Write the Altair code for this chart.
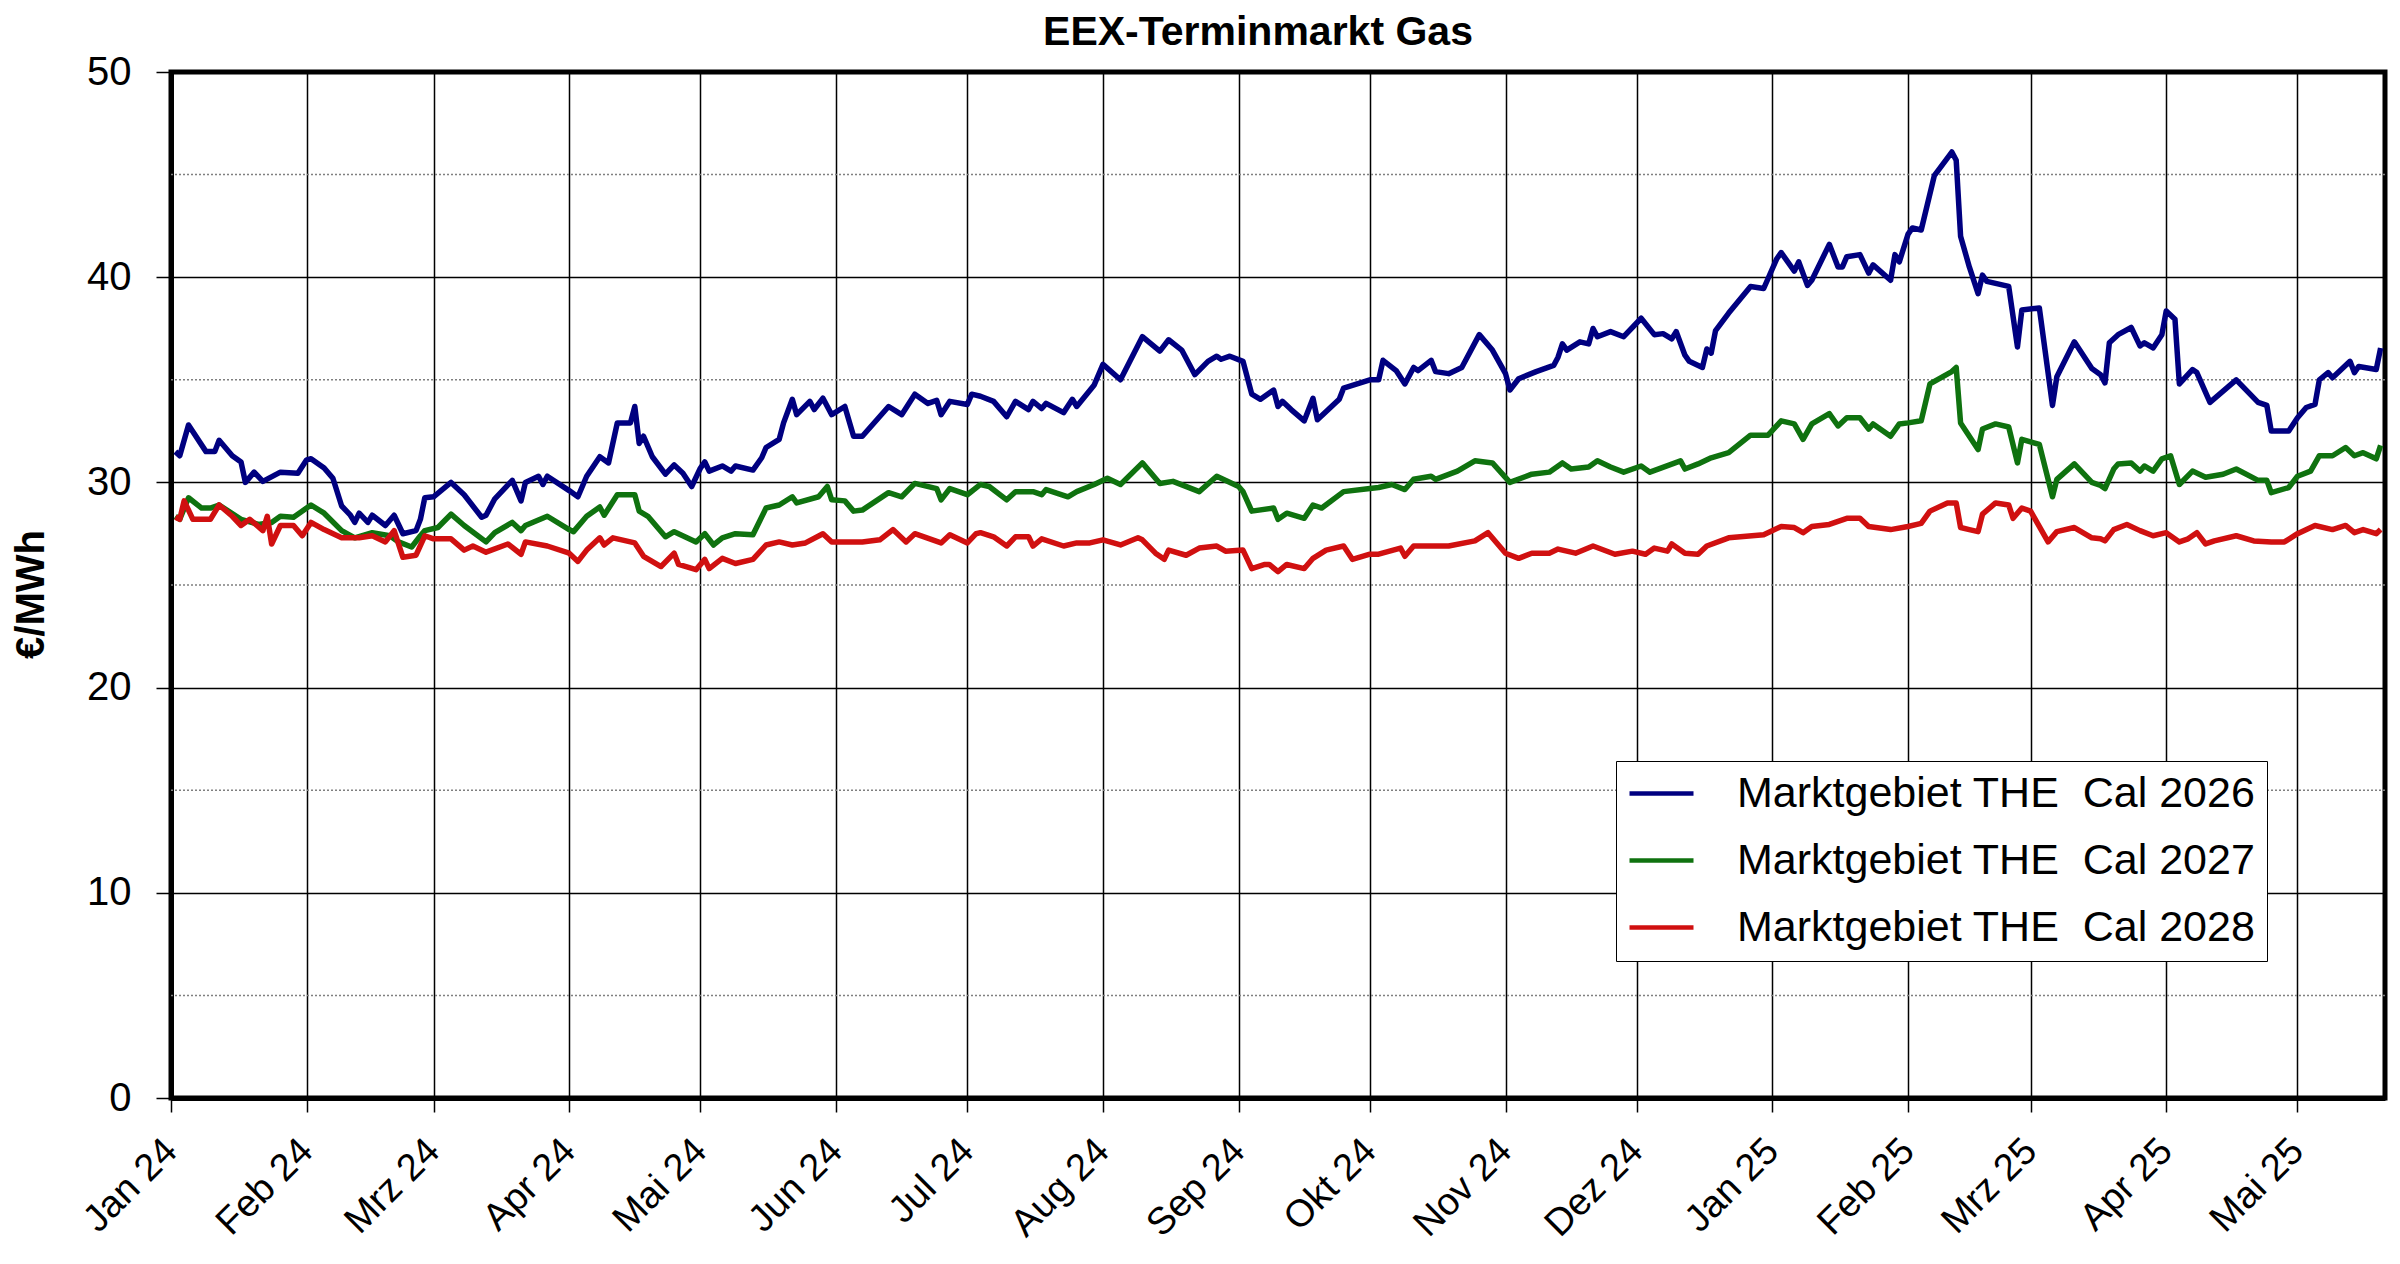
import altair as alt
import pandas as pd

TITLE = "EEX-Terminmarkt Gas"
Y_TITLE = "€/MWh"
SERIES = ["Marktgebiet THE\u00a0 Cal 2026", "Marktgebiet THE\u00a0 Cal 2027", "Marktgebiet THE\u00a0 Cal 2028"]
COLORS = ["#000080", "#0f720f", "#d01010"]
MONTHS_DE = ["Jan", "Feb", "Mrz", "Apr", "Mai", "Jun", "Jul", "Aug", "Sep", "Okt", "Nov", "Dez"]
Y_TICKS = [0, 10, 20, 30, 40, 50]
Y_MINOR = [5, 15, 25, 35, 45]

cal26_dates = [
    "2024-01-02", "2024-01-03", "2024-01-05", "2024-01-09", "2024-01-11", "2024-01-12", "2024-01-15", "2024-01-17",
    "2024-01-18", "2024-01-20", "2024-01-22", "2024-01-26", "2024-01-30", "2024-02-01", "2024-02-02", "2024-02-05",
    "2024-02-07", "2024-02-09", "2024-02-11", "2024-02-12", "2024-02-13", "2024-02-15", "2024-02-16", "2024-02-19",
    "2024-02-21", "2024-02-23", "2024-02-26", "2024-02-27", "2024-02-28", "2024-03-01", "2024-03-05", "2024-03-08",
    "2024-03-12", "2024-03-13", "2024-03-15", "2024-03-19", "2024-03-21", "2024-03-22", "2024-03-25", "2024-03-26",
    "2024-03-27", "2024-04-01", "2024-04-03", "2024-04-05", "2024-04-08", "2024-04-10", "2024-04-12", "2024-04-15",
    "2024-04-16", "2024-04-17", "2024-04-18", "2024-04-20", "2024-04-23", "2024-04-25", "2024-04-27", "2024-04-29",
    "2024-05-01", "2024-05-02", "2024-05-03", "2024-05-06", "2024-05-08", "2024-05-09", "2024-05-13", "2024-05-15",
    "2024-05-16", "2024-05-19", "2024-05-20", "2024-05-22", "2024-05-23", "2024-05-26", "2024-05-27", "2024-05-29",
    "2024-05-31", "2024-06-03", "2024-06-05", "2024-06-07", "2024-06-13", "2024-06-16", "2024-06-19", "2024-06-22",
    "2024-06-24", "2024-06-25", "2024-06-27", "2024-07-01", "2024-07-02", "2024-07-04", "2024-07-07", "2024-07-10",
    "2024-07-12", "2024-07-15", "2024-07-16", "2024-07-18", "2024-07-19", "2024-07-23", "2024-07-25", "2024-07-26",
    "2024-07-30", "2024-08-01", "2024-08-05", "2024-08-10", "2024-08-14", "2024-08-16", "2024-08-19", "2024-08-22",
    "2024-08-25", "2024-08-27", "2024-08-28", "2024-08-30", "2024-09-02", "2024-09-04", "2024-09-06", "2024-09-09",
    "2024-09-10", "2024-09-11", "2024-09-13", "2024-09-16", "2024-09-18", "2024-09-19", "2024-09-24", "2024-09-25",
    "2024-10-01", "2024-10-03", "2024-10-04", "2024-10-07", "2024-10-09", "2024-10-11", "2024-10-12", "2024-10-15",
    "2024-10-16", "2024-10-19", "2024-10-22", "2024-10-26", "2024-10-29", "2024-11-01", "2024-11-02", "2024-11-04",
    "2024-11-08", "2024-11-12", "2024-11-13", "2024-11-14", "2024-11-15", "2024-11-18", "2024-11-20", "2024-11-21",
    "2024-11-22", "2024-11-25", "2024-11-28", "2024-12-02", "2024-12-05", "2024-12-07", "2024-12-09", "2024-12-10",
    "2024-12-12", "2024-12-13", "2024-12-16", "2024-12-17", "2024-12-18", "2024-12-19", "2024-12-22", "2024-12-27",
    "2024-12-30", "2025-01-02", "2025-01-03", "2025-01-06", "2025-01-07", "2025-01-09", "2025-01-10", "2025-01-14",
    "2025-01-16", "2025-01-17", "2025-01-18", "2025-01-21", "2025-01-23", "2025-01-24", "2025-01-28", "2025-01-29",
    "2025-01-30", "2025-02-01", "2025-02-02", "2025-02-04", "2025-02-07", "2025-02-11", "2025-02-12", "2025-02-13",
    "2025-02-15", "2025-02-17", "2025-02-18", "2025-02-19", "2025-02-24", "2025-02-26", "2025-02-27", "2025-03-03",
    "2025-03-06", "2025-03-07", "2025-03-11", "2025-03-15", "2025-03-17", "2025-03-18", "2025-03-19", "2025-03-21",
    "2025-03-24", "2025-03-26", "2025-03-27", "2025-03-29", "2025-03-31", "2025-04-01", "2025-04-03", "2025-04-04",
    "2025-04-07", "2025-04-08", "2025-04-11", "2025-04-17", "2025-04-22", "2025-04-24", "2025-04-25", "2025-04-29",
    "2025-05-01", "2025-05-03", "2025-05-05", "2025-05-06", "2025-05-08", "2025-05-09", "2025-05-13", "2025-05-14",
    "2025-05-15", "2025-05-19", "2025-05-20",
]
cal26_values = [
    31.5, 31.3, 32.8, 31.5, 31.5, 32.05, 31.3, 31.0,
    30.0, 30.5, 30.05, 30.5, 30.45, 31.1, 31.15, 30.7,
    30.2, 28.85, 28.4, 28.05, 28.5, 28.05, 28.4, 27.9,
    28.4, 27.5, 27.65, 28.2, 29.25, 29.3, 30.0, 29.4,
    28.3, 28.4, 29.2, 30.1, 29.1, 30.0, 30.3, 29.9,
    30.3, 29.6, 29.3, 30.3, 31.25, 30.95, 32.9, 32.9,
    33.7, 31.9, 32.25, 31.25, 30.4, 30.85, 30.45, 29.8,
    30.7, 31.0, 30.55, 30.8, 30.55, 30.8, 30.6, 31.2,
    31.7, 32.1, 32.9, 34.05, 33.3, 33.95, 33.55, 34.1,
    33.3, 33.7, 32.25, 32.25, 33.7, 33.3, 34.3, 33.85,
    34.0, 33.3, 33.95, 33.8, 34.3, 34.2, 33.95, 33.2,
    33.95, 33.55, 33.95, 33.6, 33.85, 33.4, 34.05, 33.7,
    34.75, 35.75, 35.0, 37.1, 36.4, 36.95, 36.45, 35.25,
    35.9, 36.15, 36.0, 36.15, 35.9, 34.3, 34.05, 34.5,
    33.7, 33.95, 33.55, 33.0, 34.1, 33.05, 34.05, 34.6,
    35.0, 35.0, 35.95, 35.45, 34.8, 35.6, 35.45, 35.95,
    35.4, 35.3, 35.6, 37.2, 36.45, 35.3, 34.5, 35.05,
    35.4, 35.7, 36.1, 36.75, 36.45, 36.85, 36.75, 37.5,
    37.1, 37.35, 37.1, 38.0, 37.2, 37.25, 37.0, 37.35,
    36.2, 35.9, 35.6, 36.5, 36.3, 37.4, 38.25, 39.55,
    39.45, 40.9, 41.2, 40.3, 40.75, 39.6, 39.85, 41.6,
    40.5, 40.5, 41.0, 41.1, 40.2, 40.6, 39.85, 41.1,
    40.75, 42.1, 42.4, 42.3, 44.95, 46.1, 45.7, 42.0,
    40.5, 39.2, 40.1, 39.8, 39.55, 36.6, 38.4, 38.5,
    33.75, 35.15, 36.85, 35.55, 35.25, 34.85, 36.8, 37.2,
    37.55, 36.65, 36.8, 36.55, 37.2, 38.35, 37.95, 34.8,
    35.5, 35.35, 33.9, 35.0, 33.9, 33.75, 32.5, 32.5,
    33.15, 33.65, 33.8, 35.0, 35.35, 35.1, 35.9, 35.35,
    35.65, 35.5, 36.55,
]

cal27_dates = [
    "2024-01-02", "2024-01-03", "2024-01-05", "2024-01-08", "2024-01-10", "2024-01-12", "2024-01-17", "2024-01-21",
    "2024-01-24", "2024-01-26", "2024-01-29", "2024-02-01", "2024-02-02", "2024-02-05", "2024-02-09", "2024-02-12",
    "2024-02-16", "2024-02-20", "2024-02-22", "2024-02-25", "2024-02-27", "2024-02-28", "2024-03-02", "2024-03-05",
    "2024-03-08", "2024-03-13", "2024-03-15", "2024-03-19", "2024-03-21", "2024-03-22", "2024-03-27", "2024-04-01",
    "2024-04-02", "2024-04-05", "2024-04-08", "2024-04-09", "2024-04-12", "2024-04-16", "2024-04-17", "2024-04-19",
    "2024-04-23", "2024-04-25", "2024-04-30", "2024-05-02", "2024-05-04", "2024-05-06", "2024-05-09", "2024-05-13",
    "2024-05-16", "2024-05-19", "2024-05-22", "2024-05-23", "2024-05-28", "2024-05-30", "2024-05-31", "2024-06-03",
    "2024-06-05", "2024-06-07", "2024-06-13", "2024-06-16", "2024-06-19", "2024-06-24", "2024-06-25", "2024-06-27",
    "2024-07-01", "2024-07-04", "2024-07-06", "2024-07-10", "2024-07-12", "2024-07-16", "2024-07-18", "2024-07-19",
    "2024-07-24", "2024-07-26", "2024-07-30", "2024-08-02", "2024-08-05", "2024-08-10", "2024-08-14", "2024-08-17",
    "2024-08-23", "2024-08-27", "2024-09-01", "2024-09-02", "2024-09-04", "2024-09-09", "2024-09-10", "2024-09-12",
    "2024-09-16", "2024-09-18", "2024-09-20", "2024-09-25", "2024-10-01", "2024-10-03", "2024-10-06", "2024-10-09",
    "2024-10-11", "2024-10-15", "2024-10-16", "2024-10-21", "2024-10-25", "2024-10-29", "2024-11-02", "2024-11-07",
    "2024-11-11", "2024-11-14", "2024-11-16", "2024-11-20", "2024-11-22", "2024-11-25", "2024-11-28", "2024-12-02",
    "2024-12-04", "2024-12-11", "2024-12-12", "2024-12-15", "2024-12-18", "2024-12-22", "2024-12-27", "2024-12-31",
    "2025-01-03", "2025-01-06", "2025-01-08", "2025-01-10", "2025-01-14", "2025-01-16", "2025-01-18", "2025-01-21",
    "2025-01-23", "2025-01-24", "2025-01-28", "2025-01-30", "2025-02-01", "2025-02-04", "2025-02-06", "2025-02-11",
    "2025-02-12", "2025-02-13", "2025-02-17", "2025-02-18", "2025-02-21", "2025-02-24", "2025-02-26", "2025-02-27",
    "2025-03-03", "2025-03-06", "2025-03-07", "2025-03-11", "2025-03-15", "2025-03-17", "2025-03-18", "2025-03-20",
    "2025-03-21", "2025-03-24", "2025-03-26", "2025-03-27", "2025-03-29", "2025-03-31", "2025-04-02", "2025-04-04",
    "2025-04-07", "2025-04-10", "2025-04-14", "2025-04-17", "2025-04-22", "2025-04-24", "2025-04-25", "2025-04-29",
    "2025-05-01", "2025-05-04", "2025-05-06", "2025-05-09", "2025-05-12", "2025-05-14", "2025-05-16", "2025-05-19",
    "2025-05-20",
]
cal27_values = [
    28.35, 28.2, 29.25, 28.75, 28.75, 28.9, 28.2, 27.95,
    28.05, 28.35, 28.3, 28.75, 28.9, 28.5, 27.65, 27.3,
    27.55, 27.4, 27.1, 26.85, 27.4, 27.65, 27.8, 28.45,
    27.9, 27.1, 27.55, 28.05, 27.65, 27.9, 28.35, 27.7,
    27.6, 28.35, 28.8, 28.4, 29.4, 29.4, 28.6, 28.35,
    27.35, 27.6, 27.1, 27.5, 26.95, 27.3, 27.5, 27.45,
    28.75, 28.9, 29.3, 29.0, 29.3, 29.8, 29.15, 29.1,
    28.6, 28.65, 29.5, 29.3, 29.95, 29.7, 29.15, 29.7,
    29.4, 29.9, 29.8, 29.15, 29.55, 29.55, 29.4, 29.65,
    29.3, 29.55, 29.9, 30.2, 29.9, 30.95, 29.95, 30.05,
    29.55, 30.3, 29.8, 29.55, 28.6, 28.75, 28.2, 28.5,
    28.25, 28.9, 28.75, 29.55, 29.7, 29.75, 29.9, 29.65,
    30.15, 30.3, 30.15, 30.55, 31.05, 30.95, 30.0, 30.4,
    30.5, 30.95, 30.65, 30.75, 31.05, 30.75, 30.5, 30.8,
    30.5, 31.05, 30.65, 30.9, 31.2, 31.45, 32.3, 32.3,
    33.0, 32.85, 32.1, 32.85, 33.35, 32.75, 33.15, 33.15,
    32.6, 32.85, 32.25, 32.85, 32.9, 33.0, 34.8, 35.4,
    35.6, 32.9, 31.6, 32.6, 32.85, 32.7, 30.95, 32.1,
    31.85, 29.3, 30.15, 30.9, 30.0, 29.85, 29.7, 30.65,
    30.9, 30.95, 30.55, 30.8, 30.55, 31.15, 31.3, 29.9,
    30.55, 30.25, 30.4, 30.65, 30.1, 30.1, 29.5, 29.75,
    30.3, 30.55, 31.3, 31.3, 31.7, 31.3, 31.45, 31.15,
    31.8,
]

cal28_dates = [
    "2024-01-02", "2024-01-03", "2024-01-04", "2024-01-06", "2024-01-10", "2024-01-12", "2024-01-15", "2024-01-17",
    "2024-01-19", "2024-01-22", "2024-01-23", "2024-01-24", "2024-01-26", "2024-01-29", "2024-01-31", "2024-02-02",
    "2024-02-05", "2024-02-09", "2024-02-13", "2024-02-16", "2024-02-19", "2024-02-21", "2024-02-23", "2024-02-26",
    "2024-02-28", "2024-03-01", "2024-03-05", "2024-03-08", "2024-03-10", "2024-03-13", "2024-03-18", "2024-03-21",
    "2024-03-22", "2024-03-27", "2024-04-01", "2024-04-03", "2024-04-05", "2024-04-08", "2024-04-09", "2024-04-11",
    "2024-04-16", "2024-04-18", "2024-04-22", "2024-04-25", "2024-04-26", "2024-04-30", "2024-05-02", "2024-05-03",
    "2024-05-06", "2024-05-09", "2024-05-13", "2024-05-16", "2024-05-19", "2024-05-22", "2024-05-25", "2024-05-29",
    "2024-05-31", "2024-06-07", "2024-06-11", "2024-06-14", "2024-06-17", "2024-06-19", "2024-06-25", "2024-06-27",
    "2024-07-01", "2024-07-03", "2024-07-04", "2024-07-07", "2024-07-10", "2024-07-12", "2024-07-15", "2024-07-16",
    "2024-07-18", "2024-07-23", "2024-07-26", "2024-07-29", "2024-08-01", "2024-08-05", "2024-08-09", "2024-08-10",
    "2024-08-13", "2024-08-15", "2024-08-16", "2024-08-20", "2024-08-23", "2024-08-27", "2024-08-29", "2024-09-02",
    "2024-09-04", "2024-09-07", "2024-09-08", "2024-09-10", "2024-09-12", "2024-09-16", "2024-09-18", "2024-09-21",
    "2024-09-25", "2024-09-27", "2024-10-01", "2024-10-03", "2024-10-08", "2024-10-09", "2024-10-11", "2024-10-16",
    "2024-10-19", "2024-10-25", "2024-10-28", "2024-11-01", "2024-11-04", "2024-11-07", "2024-11-11", "2024-11-13",
    "2024-11-17", "2024-11-21", "2024-11-26", "2024-11-30", "2024-12-03", "2024-12-05", "2024-12-08", "2024-12-09",
    "2024-12-12", "2024-12-15", "2024-12-17", "2024-12-22", "2024-12-30", "2025-01-03", "2025-01-06", "2025-01-08",
    "2025-01-10", "2025-01-14", "2025-01-18", "2025-01-21", "2025-01-23", "2025-01-28", "2025-02-01", "2025-02-04",
    "2025-02-06", "2025-02-10", "2025-02-12", "2025-02-13", "2025-02-15", "2025-02-17", "2025-02-18", "2025-02-21",
    "2025-02-24", "2025-02-25", "2025-02-27", "2025-03-01", "2025-03-05", "2025-03-07", "2025-03-11", "2025-03-15",
    "2025-03-17", "2025-03-18", "2025-03-20", "2025-03-23", "2025-03-26", "2025-03-29", "2025-04-01", "2025-04-04",
    "2025-04-06", "2025-04-08", "2025-04-10", "2025-04-12", "2025-04-17", "2025-04-21", "2025-04-25", "2025-04-28",
    "2025-05-01", "2025-05-05", "2025-05-09", "2025-05-12", "2025-05-14", "2025-05-16", "2025-05-19", "2025-05-20",
]
cal28_values = [
    28.3, 28.2, 29.1, 28.2, 28.2, 28.9, 28.35, 27.9,
    28.2, 27.65, 28.35, 27.0, 27.9, 27.9, 27.4, 28.05,
    27.7, 27.3, 27.3, 27.4, 27.1, 27.65, 26.35, 26.45,
    27.4, 27.25, 27.25, 26.7, 26.9, 26.6, 27.0, 26.5,
    27.1, 26.9, 26.55, 26.15, 26.7, 27.3, 26.95, 27.3,
    27.05, 26.4, 25.9, 26.55, 26.0, 25.75, 26.25, 25.8,
    26.3, 26.05, 26.25, 26.95, 27.1, 26.95, 27.05, 27.5,
    27.1, 27.1, 27.2, 27.7, 27.1, 27.5, 27.05, 27.45,
    27.05, 27.5, 27.55, 27.35, 26.9, 27.35, 27.35, 26.9,
    27.25, 26.9, 27.05, 27.05, 27.2, 26.95, 27.3, 27.2,
    26.55, 26.25, 26.7, 26.45, 26.8, 26.9, 26.65, 26.7,
    25.8, 26.0, 26.0, 25.65, 26.0, 25.8, 26.3, 26.7,
    26.9, 26.25, 26.5, 26.5, 26.8, 26.4, 26.9, 26.9,
    26.9, 27.15, 27.55, 26.55, 26.3, 26.55, 26.55, 26.75,
    26.55, 26.9, 26.5, 26.65, 26.5, 26.8, 26.65, 27.0,
    26.55, 26.5, 26.9, 27.3, 27.45, 27.85, 27.8, 27.55,
    27.85, 27.95, 28.25, 28.25, 27.85, 27.7, 27.85, 28.0,
    28.6, 29.0, 29.0, 27.8, 27.7, 27.6, 28.45, 29.0,
    28.9, 28.25, 28.75, 28.6, 27.1, 27.6, 27.8, 27.3,
    27.25, 27.15, 27.7, 27.95, 27.65, 27.4, 27.55, 27.1,
    27.25, 27.55, 27.0, 27.15, 27.4, 27.15, 27.1, 27.1,
    27.5, 27.9, 27.7, 27.9, 27.55, 27.7, 27.5, 27.7,
]

frames = []
for name, d, v in zip(SERIES, [cal26_dates, cal27_dates, cal28_dates],
                      [cal26_values, cal27_values, cal28_values]):
    assert len(d) == len(v), (name, len(d), len(v))
    frames.append(pd.DataFrame({"date": d, "value": v, "series": name}))
df = pd.concat(frames, ignore_index=True)

FONT = "Liberation Sans"
month_ticks = [alt.DateTime(year=y, month=m, date=1, utc=True)
               for y, m in [(2024, i) for i in range(1, 13)] + [(2025, i) for i in range(1, 6)]]
month_js = "[" + ",".join("'%s'" % m for m in MONTHS_DE) + "]"
label_expr = month_js + "[utcmonth(datum.value)] + ' ' + utcFormat(datum.value, '%y')"

x_enc = alt.X(
    "date:T",
    scale=alt.Scale(type="utc", domain=[alt.DateTime(year=2024, month=1, date=1, utc=True),
                                        alt.DateTime(year=2025, month=5, date=21, utc=True)]),
    axis=alt.Axis(values=month_ticks, labelExpr=label_expr, title=None, labelAngle=-45,
                  labelAlign="right", labelBaseline="middle", labelPadding=33, labelFontSize=38,
                  labelFont=FONT, labelColor="black", tickSize=14, tickColor="black", tickWidth=1.5,
                  domainColor="black", domainWidth=5, grid=True, gridColor="black", gridWidth=1.5,
                  labelOverlap=False),
)
y_axis = alt.Axis(values=Y_TICKS, title=Y_TITLE, labelFontSize=40, labelFont=FONT, labelColor="black",
                  labelPadding=25, tickSize=15, tickColor="black", tickWidth=1.5, domainColor="black",
                  domainWidth=5, grid=True, gridColor="black", gridWidth=1.5, titleFont=FONT,
                  titleFontSize=40, titleFontWeight="bold", titleColor="black", titleAngle=-90,
                  titleX=-128, titleY=522, titleAlign="center", titleBaseline="alphabetic")
y_scale = alt.Scale(domain=[0, 50], nice=False, zero=True)

minor = alt.Chart(pd.DataFrame({"value": Y_MINOR})).mark_rule(
    color="#808080", strokeDash=[2, 2], strokeWidth=1.5
).encode(y=alt.Y("value:Q", scale=y_scale, axis=y_axis))

lines = alt.Chart(df).mark_line(strokeWidth=5.5, strokeJoin="round").encode(
    x=x_enc,
    y=alt.Y("value:Q", scale=y_scale, axis=y_axis),
    color=alt.Color(
        "series:N",
        scale=alt.Scale(domain=SERIES, range=COLORS),
        legend=alt.Legend(title=None, orient="none", legendX=1445, legendY=689, direction="vertical",
                          symbolType="stroke", symbolSize=4096, symbolStrokeWidth=4.5,
                          labelFontSize=43, labelFont=FONT, labelColor="black", labelLimit=2000,
                          labelOffset=41, rowPadding=23, padding=11, clipHeight=43,
                          strokeColor="black", fillColor="white", cornerRadius=0),
    ),
    order=alt.Order("date:T"),
)

chart = alt.layer(minor, lines).properties(
    width=2214,
    height=1026,
    title=alt.TitleParams(TITLE, fontSize=41, font=FONT, fontWeight="bold", color="black",
                          anchor="middle", frame="group", offset=-2, dx=-20),
    autosize=alt.AutoSizeParams(type="none"),
    padding={"left": 163, "top": 64, "right": 7, "bottom": 150},
    background="white",
).configure_view(stroke="black", strokeWidth=5)

chart.save("out.html", embed_options={"renderer": "svg", "actions": False})
